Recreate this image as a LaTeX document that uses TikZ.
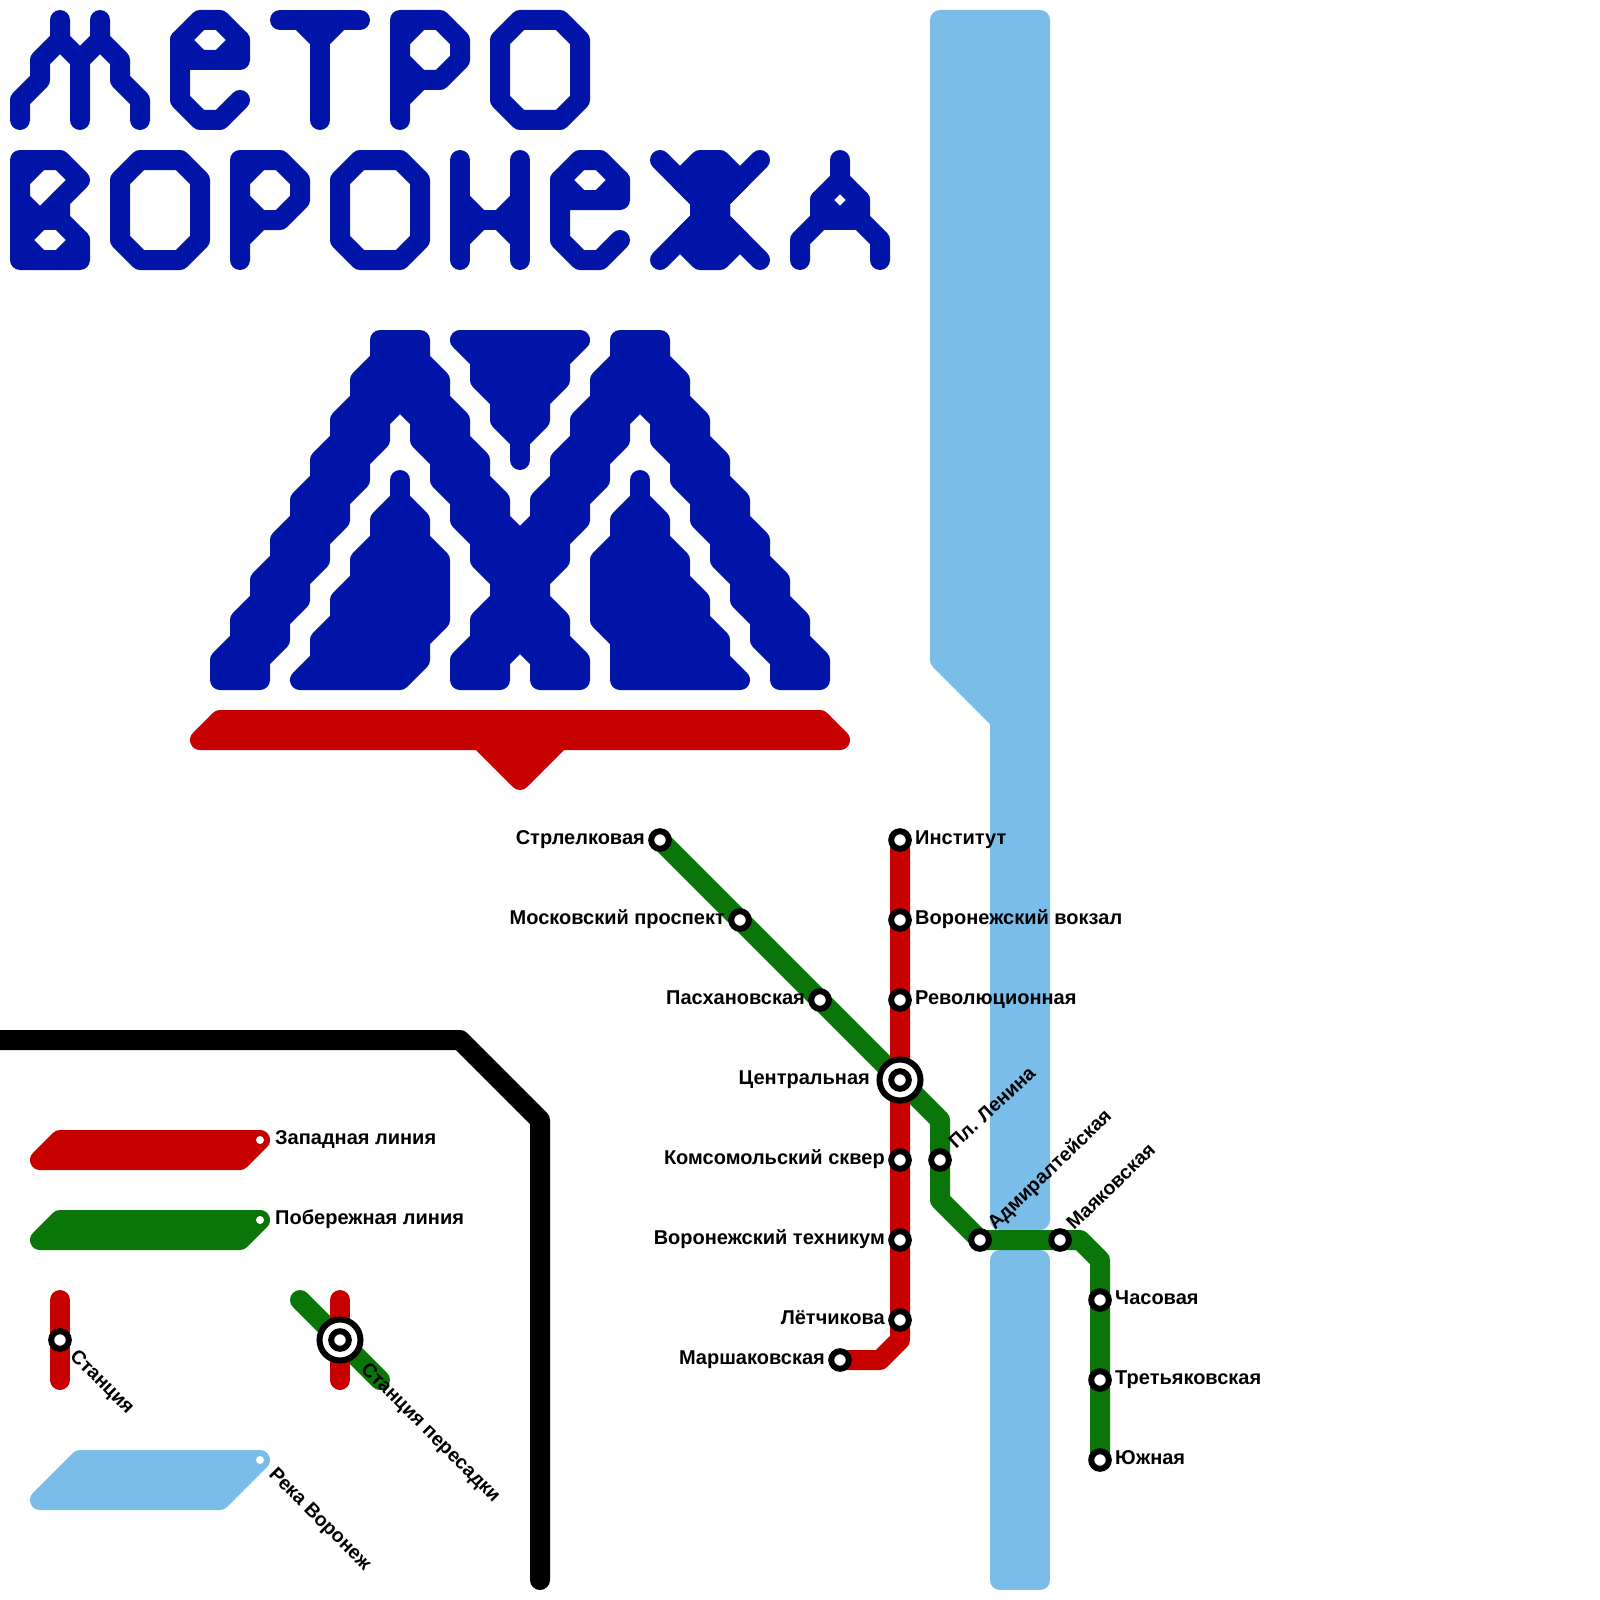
\documentclass[tikz,border=0pt]{standalone}
\usepackage{fontspec}
\setmainfont{Liberation Sans}
\usetikzlibrary{backgrounds}
\definecolor{logoblue}{HTML}{0014A8}
\definecolor{westred}{HTML}{C70000}
\definecolor{coastgreen}{HTML}{0A7508}
\definecolor{riverblue}{HTML}{7ABDE9}

\begin{document}
\begin{tikzpicture}[x=1pt, y=-1pt,
    logo/.style={draw=logoblue, line width=20pt, line cap=round, line join=round},
    logofill/.style={logo, fill=logoblue},
    westline/.style={draw=westred, line width=20pt, line cap=round, line join=round},
    coastline/.style={draw=coastgreen, line width=20pt, line cap=round, line join=round},
    riverbed/.style={draw=riverblue, fill=riverblue, line width=20pt, line join=round},
    station/.style={circle, draw=black, fill=white, line width=6pt, minimum size=17.6pt, inner sep=0pt},
    hub/.style={circle, draw=black, fill=white, line width=6pt, minimum size=41pt, inner sep=0pt},
    dot/.style={circle, fill=white, minimum size=8pt, inner sep=0pt},
    lbl/.style={inner sep=0pt, font=\fontsize{20}{22}\selectfont\bfseries, text=black},
    lblr/.style={lbl, anchor=base west},
    lbll/.style={lbl, anchor=base east},
    lbld/.style={lblr, font=\fontsize{19.5}{22}\selectfont\bfseries}]
  \useasboundingbox (0,0) rectangle (1600,1600);

  \draw[logo] (20,120) -- (20,100) -- (40,80) -- (40,60) -- (60,40) -- (60,20);
  \draw[logo] (60,40) -- (80,60) -- (80,120);
  \draw[logo] (100,20) -- (100,40) -- (80,60);
  \draw[logo] (100,40) -- (120,60) -- (120,80) -- (140,100) -- (140,120);

  \draw[logo] (240,100) -- (220,120) -- (200,120) -- (180,100) -- (180,40) -- (200,20) -- (220,20) -- (240,40) -- (240,60) -- (180,60);
  \draw[logo] (180,40) -- (200,60);
  \draw[logo] (240,40) -- (220,60);

  \draw[logo] (280,20) -- (360,20);
  \draw[logo] (320,120) -- (320,20);
  \draw[logo] (300,20) -- (320,40) -- (340,20);

  \draw[logo] (400,120) -- (400,20) -- (440,20) -- (460,40) -- (460,60) -- (440,80) -- (420,80) -- (400,100);
  \draw[logo] (400,40) -- (420,20);
  \draw[logo] (400,60) -- (420,80);

  \draw[logo] (520,20) -- (560,20) -- (580,40) -- (580,100) -- (560,120) -- (520,120) -- (500,100) -- (500,40) -- cycle;

  \draw[logo] (20,160) -- (60,160) -- (80,180) -- (60,200) -- (60,220) -- (80,240) -- (80,260) -- (20,260) -- cycle;
  \draw[logo] (20,180) -- (40,160);
  \draw[logo] (20,200) -- (40,220) -- (60,200);
  \draw[logo] (20,220) -- (60,220);
  \draw[logo] (20,240) -- (40,220);
  \draw[logo] (20,240) -- (40,260);
  \draw[logo] (60,260) -- (80,240);

  \draw[logo] (140,160) -- (180,160) -- (200,180) -- (200,240) -- (180,260) -- (140,260) -- (120,240) -- (120,180) -- cycle;

  \draw[logo] (240,260) -- (240,160) -- (280,160) -- (300,180) -- (300,200) -- (280,220) -- (260,220) -- (240,240);
  \draw[logo] (240,180) -- (260,160);
  \draw[logo] (240,200) -- (260,220);

  \draw[logo] (360,160) -- (400,160) -- (420,180) -- (420,240) -- (400,260) -- (360,260) -- (340,240) -- (340,180) -- cycle;

  \draw[logo] (460,160) -- (460,260);
  \draw[logo] (520,160) -- (520,260);
  \draw[logo] (460,220) -- (520,220);
  \draw[logo] (460,200) -- (480,220) -- (460,240);
  \draw[logo] (520,200) -- (500,220) -- (520,240);

  \draw[logo] (620,240) -- (600,260) -- (580,260) -- (560,240) -- (560,180) -- (580,160) -- (600,160) -- (620,180) -- (620,200) -- (560,200);
  \draw[logo] (560,180) -- (580,200);
  \draw[logo] (620,180) -- (600,200);

  \draw[logo] (660,160) -- (700,200) -- (700,220) -- (660,260);
  \draw[logo] (760,160) -- (720,200) -- (720,220) -- (760,260);
  \draw[logofill] (680,180) -- (700,160) -- (720,160) -- (740,180) -- (720,200) -- (720,220) -- (740,240) -- (720,260) -- (700,260) -- (680,240) -- (700,220) -- (700,200) -- cycle;

  \draw[logo] (840,160) -- (840,180) -- (820,200) -- (820,220) -- (800,240) -- (800,260);
  \draw[logo] (840,180) -- (860,200) -- (860,220) -- (880,240) -- (880,260);
  \draw[logo] (820,220) -- (860,220);
  \draw[logo] (820,200) -- (840,220) -- (860,200);

  \draw[logofill] (380,340) -- (380,360) -- (360,380) -- (360,400) -- (340,420) -- (340,440) -- (320,460) -- (320,480) -- (300,500) -- (300,520) -- (280,540) -- (280,560) -- (260,580) -- (260,600) -- (240,620) -- (240,640) -- (220,660) -- (220,680) -- (260,680) -- (260,660) -- (280,640) -- (280,620) -- (300,600) -- (300,580) -- (320,560) -- (320,540) -- (340,520) -- (340,500) -- (360,480) -- (360,460) -- (380,440) -- (380,420) -- (400,400) -- (420,420) -- (420,440) -- (440,460) -- (440,480) -- (460,500) -- (460,520) -- (480,540) -- (480,560) -- (500,580) -- (500,600) -- (480,620) -- (480,640) -- (460,660) -- (460,680) -- (500,680) -- (500,660) -- (520,640) -- (540,660) -- (540,680) -- (580,680) -- (580,660) -- (560,640) -- (560,620) -- (540,600) -- (540,580) -- (560,560) -- (560,540) -- (580,520) -- (580,500) -- (600,480) -- (600,460) -- (620,440) -- (620,420) -- (640,400) -- (660,420) -- (660,440) -- (680,460) -- (680,480) -- (700,500) -- (700,520) -- (720,540) -- (720,560) -- (740,580) -- (740,600) -- (760,620) -- (760,640) -- (780,660) -- (780,680) -- (820,680) -- (820,660) -- (800,640) -- (800,620) -- (780,600) -- (780,580) -- (760,560) -- (760,540) -- (740,520) -- (740,500) -- (720,480) -- (720,460) -- (700,440) -- (700,420) -- (680,400) -- (680,380) -- (660,360) -- (660,340) -- (620,340) -- (620,360) -- (600,380) -- (600,400) -- (580,420) -- (580,440) -- (560,460) -- (560,480) -- (540,500) -- (540,520) -- (520,540) -- (500,520) -- (500,500) -- (480,480) -- (480,460) -- (460,440) -- (460,420) -- (440,400) -- (440,380) -- (420,360) -- (420,340) -- cycle;

  \draw[logofill] (400,500) -- (420,520) -- (420,540) -- (440,560) -- (440,620) -- (420,640) -- (420,660) -- (400,680) -- (300,680) -- (320,660) -- (320,640) -- (340,620) -- (340,600) -- (360,580) -- (360,560) -- (380,540) -- (380,520) -- cycle;
  \draw[logo] (400,480) -- (400,500);

  \draw[logofill] (640,500) -- (660,520) -- (660,540) -- (680,560) -- (680,580) -- (700,600) -- (700,620) -- (720,640) -- (720,660) -- (740,680) -- (620,680) -- (620,640) -- (600,620) -- (600,560) -- (620,540) -- (620,520) -- cycle;
  \draw[logo] (640,480) -- (640,500);

  \draw[logofill] (460,340) -- (480,360) -- (480,380) -- (500,400) -- (500,420) -- (520,440) -- (540,420) -- (540,400) -- (560,380) -- (560,360) -- (580,340) -- cycle;
  \draw[logo] (520,440) -- (520,460);

  \draw[westline, fill=westred] (220,720) -- (820,720) -- (840,740) -- (560,740) -- (520,780) -- (480,740) -- (200,740) -- cycle;

  \node[station] (strelkovaya) at (660,840) {};
  \node[station] (moskovsky) at (740,920) {};
  \node[station] (paskhanovskaya) at (820,1000) {};
  \node[station] (institut) at (900,840) {};
  \node[station] (vokzal) at (900,920) {};
  \node[station] (revolyutsionnaya) at (900,1000) {};
  \node[hub] (centralHub) at (900,1080) {};
  \node[station] (central) at (900,1080) {};
  \node[station] (komsomolsky) at (900,1160) {};
  \node[station] (tekhnikum) at (900,1240) {};
  \node[station] (letchikova) at (900,1320) {};
  \node[station] (marshakovskaya) at (840,1360) {};
  \node[station] (lenina) at (940,1160) {};
  \node[station] (admiralteyskaya) at (980,1240) {};
  \node[station] (mayakovskaya) at (1060,1240) {};
  \node[station] (chasovaya) at (1100,1300) {};
  \node[station] (tretyakovskaya) at (1100,1380) {};
  \node[station] (yuzhnaya) at (1100,1460) {};

  \node[lbll] (strelkovayaL) at (645,844) {Стрлелковая};
  \node[lbll] (moskovskyL) at (725,924) {Московский проспект};
  \node[lbll] (paskhanovskayaL) at (805,1004) {Пасхановская};
  \node[lblr] (institutL) at (915,844) {Институт};
  \node[lblr] (vokzalL) at (915,924) {Воронежский вокзал};
  \node[lblr] (revolyutsionnayaL) at (915,1004) {Революционная};
  \node[lbll] (centralL) at (870,1084) {Центральная};
  \node[lbll] (komsomolskyL) at (885,1164) {Комсомольский сквер};
  \node[lbll] (tekhnikumL) at (885,1244) {Воронежский техникум};
  \node[lbll] (letchikovaL) at (885,1324) {Лётчикова};
  \node[lbll] (marshakovskayaL) at (825,1364) {Маршаковская};
  \node[lbld, rotate=43] (leninaL) at (956,1150) {Пл. Ленина};
  \node[lbld, rotate=44] (admiralteyskayaL) at (995,1231) {Адмиралтейская};
  \node[lbld, rotate=44] (mayakovskayaL) at (1074,1231) {Маяковская};
  \node[lblr] (chasovayaL) at (1115,1304) {Часовая};
  \node[lblr] (tretyakovskayaL) at (1115,1384) {Третьяковская};
  \node[lblr] (yuzhnayaL) at (1115,1464) {Южная};

  \node[dot] (westKey) at (260,1140) {};
  \node[dot] (coastKey) at (260,1220) {};
  \node[dot] (riverKey) at (260,1460) {};
  \node[lblr] (westKeyL) at (275,1144) {Западная линия};
  \node[lblr] (coastKeyL) at (275,1224) {Побережная линия};
  \node[station] (stationKey) at (60,1340) {};
  \node[hub] (hubKeyOuter) at (340,1340) {};
  \node[station] (hubKey) at (340,1340) {};
  \node[lbld, rotate=-45] (stationKeyL) at (69,1357) {Станция};
  \node[lbld, rotate=-45] (hubKeyL) at (360,1370) {Станция пересадки};
  \node[lbld, rotate=-45] (riverKeyL) at (268,1475) {Река Воронеж};

  \coordinate (greenA) at (940,1120);
  \coordinate (greenB) at (940,1200);
  \coordinate (greenC) at (1080,1240);
  \coordinate (greenD) at (1100,1260);
  \coordinate (redA) at (900,1340);
  \coordinate (redB) at (880,1360);
  \coordinate (keyRedTop) at (60,1300);
  \coordinate (keyRedEnd) at (60,1380);
  \coordinate (hubRedTop) at (340,1300);
  \coordinate (hubRedEnd) at (340,1380);
  \coordinate (hubGreenTop) at (300,1300);
  \coordinate (hubGreenEnd) at (380,1380);

  \begin{scope}[on background layer]
    \draw[riverbed] (940,20) -- (1040,20) -- (1040,1220) -- (1000,1220) -- (1000,720) -- (940,660) -- cycle;
    \draw[riverbed] (1000,1260) -- (1040,1260) -- (1040,1580) -- (1000,1580) -- cycle;
    \draw[riverbed] (80,1460) -- (riverKey.center) -- (220,1500) -- (40,1500) -- cycle;

    \draw[coastline] (strelkovaya.center) -- (moskovsky.center) -- (paskhanovskaya.center) -- (central.center) -- (greenA) -- (lenina.center) -- (greenB) -- (admiralteyskaya.center) -- (mayakovskaya.center) -- (greenC) -- (greenD) -- (chasovaya.center) -- (tretyakovskaya.center) -- (yuzhnaya.center);
    \draw[westline] (institut.center) -- (vokzal.center) -- (revolyutsionnaya.center) -- (central.center) -- (komsomolsky.center) -- (tekhnikum.center) -- (letchikova.center) -- (redA) -- (redB) -- (marshakovskaya.center);

    \draw[westline, fill=westred] (60,1140) -- (westKey.center) -- (240,1160) -- (40,1160) -- cycle;
    \draw[coastline, fill=coastgreen] (60,1220) -- (coastKey.center) -- (240,1240) -- (40,1240) -- cycle;
    \draw[westline] (keyRedTop) -- (stationKey.center) -- (keyRedEnd);
    \draw[coastline] (hubGreenTop) -- (hubKey.center) -- (hubGreenEnd);
    \draw[westline] (hubRedTop) -- (hubKey.center) -- (hubRedEnd);
  \end{scope}

  \draw[line width=20pt, line cap=round, line join=round, black] (-20,1040) -- (460,1040) -- (540,1120) -- (540,1580);
\end{tikzpicture}
\end{document}
